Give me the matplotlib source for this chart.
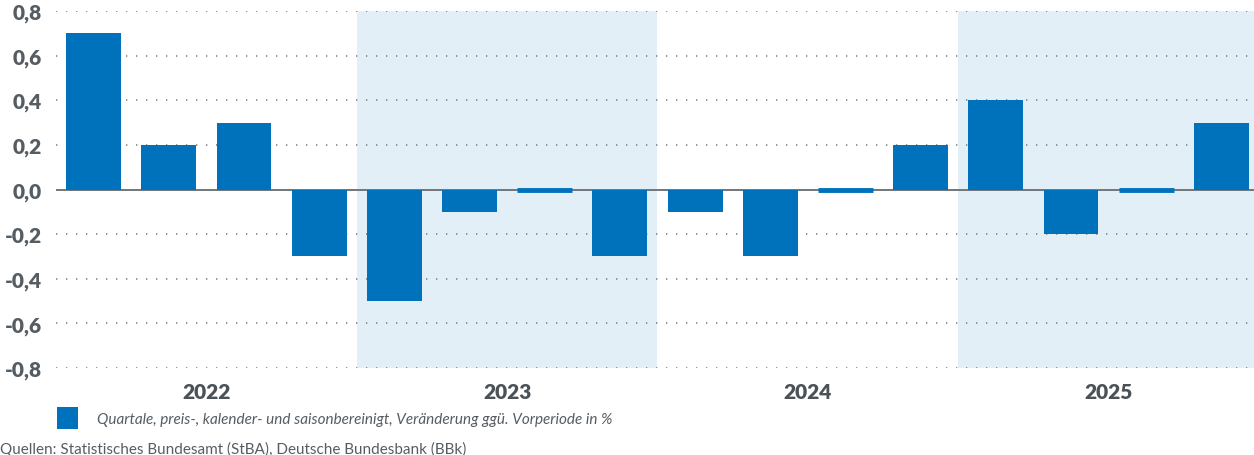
import matplotlib
matplotlib.use("Agg")
import matplotlib.pyplot as plt
import numpy as np

quarters = ["2022Q1", "2022Q2", "2022Q3", "2022Q4",
            "2023Q1", "2023Q2", "2023Q3", "2023Q4",
            "2024Q1", "2024Q2", "2024Q3", "2024Q4",
            "2025Q1", "2025Q2", "2025Q3", "2025Q4"]
values = [0.7, 0.2, 0.3, -0.3,
          -0.5, -0.1, 0.0, -0.3,
          -0.1, -0.3, 0.0, 0.2,
          0.4, -0.2, 0.0, 0.3]
years = ["2022", "2023", "2024", "2025"]
shaded_years = ["2023", "2025"]
yticks = [-0.8, -0.6, -0.4, -0.2, 0.0, 0.2, 0.4, 0.6, 0.8]
legend_label = "Quartale, preis-, kalender- und saisonbereinigt, Veränderung ggü. Vorperiode in %"
source_text = "Quellen: Statistisches Bundesamt (StBA), Deutsche Bundesbank (BBk)"

BLUE = "#0072bb"
SHADE = "#e3eff7"
GRAY = "#555d63"

plt.rcParams["font.family"] = ["Lato", "DejaVu Sans"]

W, H = 1254, 456
fig = plt.figure(figsize=(W / 100, H / 100), dpi=100)
ax = fig.add_axes([56 / W, (H - 369) / H, 1203 / W, (369 - 12) / H])

x = np.arange(len(values))
ax.set_xlim(-0.5, len(values) - 0.5)
ax.set_ylim(-0.8, 0.8)

# shaded year bands
for i, yr in enumerate(years):
    if yr in shaded_years:
        ax.axvspan(i * 4 - 0.5, i * 4 + 3.5, color=SHADE, zorder=0, lw=0)

# grid
for t in yticks:
    if t != 0:
        ax.axhline(t, color="#7a8288", lw=1.2, ls=(0, (0.8, 5.2)), zorder=1)
ax.axhline(0, color="#70777c", lw=1.4, zorder=2)

vals = np.array(values)
width = 0.73
ax.bar(x, vals, width=width, color=BLUE, zorder=3, lw=0)
zero = vals == 0
ax.hlines(vals[zero], x[zero] - width / 2, x[zero] + width / 2, color=BLUE, lw=3.5, zorder=3)

ax.set_yticks(yticks)
ax.set_yticklabels([f"{t:.1f}".replace(".", ",") for t in yticks],
                   fontsize=15, fontweight="heavy", color=GRAY)
ax.set_xticks([i * 4 + 1.5 for i in range(len(years))])
ax.set_xticklabels(years, fontsize=15, fontweight="heavy", color="#4a5258")
ax.tick_params(axis="both", length=0)
ax.tick_params(axis="y", pad=10)
ax.tick_params(axis="x", pad=10)
for s in ax.spines.values():
    s.set_visible(False)
ax.patch.set_alpha(0)

# legend
fig.patches.append(matplotlib.patches.Rectangle((57 / W, (H - 430) / H), 21 / W, 22 / H,
                                                transform=fig.transFigure, color=BLUE, lw=0))
fig.text(97 / W, (H - 420) / H, legend_label, fontsize=11, style="italic",
         color=GRAY, va="center", ha="left")
fig.text(0, (H - 449) / H, source_text, fontsize=11, color=GRAY, va="center", ha="left")

fig.savefig("out.png", dpi=100)
